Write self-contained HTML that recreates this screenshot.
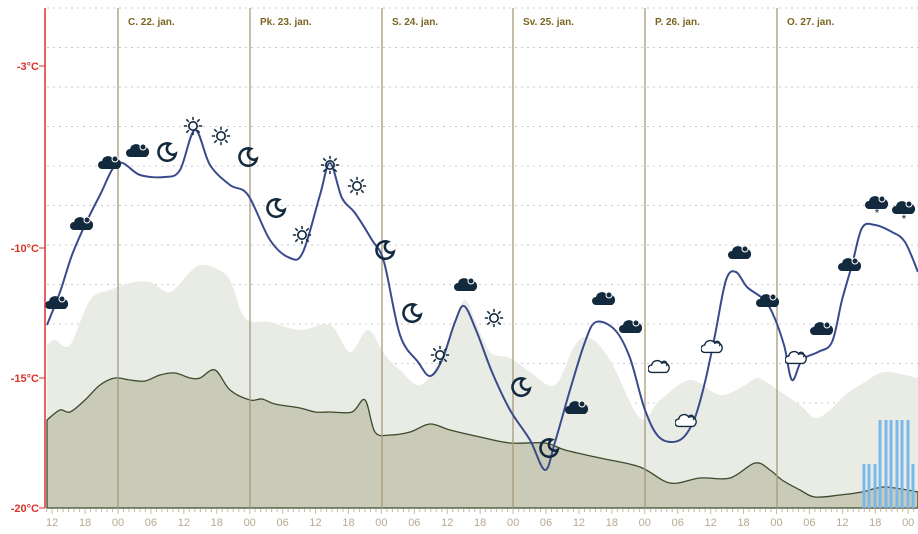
<!DOCTYPE html>
<html><head><meta charset="utf-8"><style>
html,body{margin:0;padding:0;background:#fff;width:918px;height:534px;overflow:hidden}
svg{display:block;font-family:"Liberation Sans",sans-serif}
</style></head><body>
<svg id="s" width="918" height="534" viewBox="0 0 918 534" xmlns="http://www.w3.org/2000/svg">
<defs>
<symbol id="cloud" viewBox="0 0 24 16"><path d="M4 15 A4 4 0 0 1 4 7 A6 6 0 0 1 15 5 A4.5 4.5 0 0 1 20 15 Z" fill="#132a3e"/><circle cx="17" cy="5" r="3" fill="#132a3e" stroke="#fff" stroke-width="1"/></symbol>
<symbol id="ocloud" viewBox="0 0 24 16"><path d="M4 15 A4 4 0 0 1 4 7 A6 6 0 0 1 15 5 A4.5 4.5 0 0 1 20 15 Z" fill="#fff" stroke="#132a3e" stroke-width="1.5"/><path d="M15 4 A3 3 0 0 1 20 8" fill="none" stroke="#132a3e" stroke-width="1.5"/></symbol>
<symbol id="moon" viewBox="0 0 24 24"><path d="M15 3 A9.5 9.5 0 1 0 21.5 14 A5 5 0 0 1 15 3 Z" fill="none" stroke="#132a3e" stroke-width="2.8"/></symbol>
<symbol id="sun" viewBox="0 0 24 24"><circle cx="12" cy="12" r="5" fill="none" stroke="#132a3e" stroke-width="2"/><g stroke="#132a3e" stroke-width="1.8"><path d="M12 1v4M12 19v4M1 12h4M19 12h4M4 4l3 3M17 17l3 3M4 20l3-3M17 7l3-3"/></g></symbol>
</defs>
<g id="grid"></g>
<path id="light" fill="#e9ece4"/>
<path id="dark" fill="#c9cbb8" stroke="#3c4a2c" stroke-width="1.3"/>
<g id="bars" fill="#7ab8ec"></g>
<g id="days"></g>
<path id="temp" fill="none" stroke="#3a4b8c" stroke-width="2"/>
<g id="icons"></g>
<line x1="45" y1="8" x2="45" y2="508" stroke="#d9332a" stroke-width="1.5"/>
<g fill="#d9332a" font-size="11" font-weight="bold" text-anchor="end">
<text x="39" y="70">-3°C</text><line x1="39" y1="66" x2="45" y2="66" stroke="#d9332a"/>
<text x="39" y="252">-10°C</text><line x1="39" y1="248" x2="45" y2="248" stroke="#d9332a"/>
<text x="39" y="382">-15°C</text><line x1="39" y1="378" x2="45" y2="378" stroke="#d9332a"/>
<text x="39" y="512">-20°C</text><line x1="39" y1="508" x2="45" y2="508" stroke="#d9332a"/>
</g>
<g id="xaxis"></g>
</svg>
<script>
const NS="http://www.w3.org/2000/svg";
function el(p,t,a,txt){const e=document.createElementNS(NS,t);for(const k in a)e.setAttribute(k,a[k]);if(txt)e.textContent=txt;document.getElementById(p).appendChild(e);return e;}
function smooth(pts){let d="M"+pts[0][0]+" "+pts[0][1];for(let i=0;i<pts.length-1;i++){const p0=pts[i-1]||pts[i],p1=pts[i],p2=pts[i+1],p3=pts[i+2]||p2;d+=` C${p1[0]+(p2[0]-p0[0])/6} ${p1[1]+(p2[1]-p0[1])/6} ${p2[0]-(p3[0]-p1[0])/6} ${p2[1]-(p3[1]-p1[1])/6} ${p2[0]} ${p2[1]}`;}return d;}
for(let y=482;y>0;y-=39.5)el("grid","line",{x1:47,x2:918,y1:y,y2:y,stroke:"#c8c8c8","stroke-dasharray":"2 4","stroke-width":1});
const days=[118,250,382,513,645,777],names=["C. 22. jan.","Pk. 23. jan.","S. 24. jan.","Sv. 25. jan.","P. 26. jan.","O. 27. jan."];
days.forEach((x,i)=>{el("days","line",{x1:x,x2:x,y1:8,y2:508,stroke:"#a89a78","stroke-width":1.3});el("days","text",{x:x+10,y:25,"font-size":"10","font-weight":"bold",fill:"#7a6520"},names[i]);});
const ph=131.7/24;
for(let h=-13;h<=44*4;h++){const x=118+h*ph;if(x<46||x>918)continue;el("xaxis","line",{x1:x,x2:x,y1:509,y2:(h%6==0?514:512),stroke:"#c9b9a0","stroke-width":1});if(h%6==0){const hh=((h%24)+24)%24;el("xaxis","text",{x:x,y:526,"font-size":"11",fill:"#b8a890","text-anchor":"middle"},String(hh).padStart(2,"0"));}}
const L=[[47,345],[55,340],[70,345],[90,300],[110,290],[130,283],[150,282],[170,292],[190,272],[200,265],[215,268],[230,280],[245,318],[270,322],[300,330],[330,325],[350,352],[368,330],[385,355],[400,370],[420,385],[440,360],[455,320],[465,300],[475,320],[490,352],[510,358],[530,372],[555,385],[575,345],[590,338],[610,360],[640,418],[660,400],[690,380],[720,395],[745,385],[758,378],[775,388],[800,405],[815,418],[830,410],[845,395],[865,382],[885,372],[918,378]];
document.getElementById("light").setAttribute("d",smooth(L)+" L918 508 L47 508 Z");
const D=[[47,420],[60,410],[70,412],[85,400],[100,385],[115,378],[130,380],[145,381],[160,375],[175,373],[190,378],[200,378],[215,370],[230,390],[250,400],[262,399],[275,404],[300,408],[315,412],[330,412],[352,412],[365,400],[375,432],[390,435],[410,432],[430,424],[450,430],[480,437],[510,443],[545,443],[565,450],[600,458],[640,467],[670,483],[700,478],[730,478],[755,463],[770,470],[782,480],[800,490],[815,497],[840,495],[862,492],[885,487],[918,492]];
document.getElementById("dark").setAttribute("d",smooth(D)+" L918 508 L47 508 Z");
[[864,464],[869,464],[875,464],[880,420],[886,420],[891,420],[897,420],[902,420],[908,420],[913,464]].forEach(b=>el("bars","rect",{x:b[0]-1.5,y:b[1],width:3,height:508-b[1]}));
const T=[[47,325],[60,292],[72,255],[85,225],[100,195],[118,163],[140,175],[165,177],[180,170],[195,130],[210,165],[230,185],[248,195],[270,240],[290,258],[303,252],[320,195],[330,163],[342,198],[355,213],[372,240],[384,262],[400,335],[418,362],[430,376],[442,360],[455,322],[464,306],[476,330],[492,372],[510,410],[530,440],[545,470],[555,442],[570,390],[585,342],[596,322],[615,330],[630,358],[645,410],[660,438],[680,440],[694,420],[705,382],[715,335],[726,280],[736,272],[747,287],[762,298],[772,312],[784,345],[792,380],[802,360],[818,352],[832,342],[842,300],[852,265],[862,228],[875,225],[892,232],[905,242],[918,272]];
document.getElementById("temp").setAttribute("d",smooth(T));
function ic(id,x,y,w,h){el("icons","use",{href:"#"+id,x:x-w/2,y:y-h/2,width:w,height:h});}
[[57,302],[110,162],[138,150],[466,284],[604,298],[631,326],[577,407],[740,252],[768,300],[822,328],[850,264],[877,202],[904,207],[82,223]].forEach(p=>ic("cloud",p[0],p[1],24,16));
[[877,212],[904,218]].forEach(p=>el("icons","text",{x:p[0],y:p[1]+5,"font-size":"12","text-anchor":"middle",fill:"#132a3e"},"*"));
[[167,152],[248,157],[276,208],[385,250],[412,313],[521,387],[549,448]].forEach(p=>ic("moon",p[0],p[1],22,22));
[[193,126],[221,136],[330,165],[357,186],[302,235],[440,355],[494,318]].forEach(p=>ic("sun",p[0],p[1],20,20));
[[659,366],[686,420],[796,357],[712,346]].forEach(p=>ic("ocloud",p[0],p[1],22,15));
</script>
</body></html>
